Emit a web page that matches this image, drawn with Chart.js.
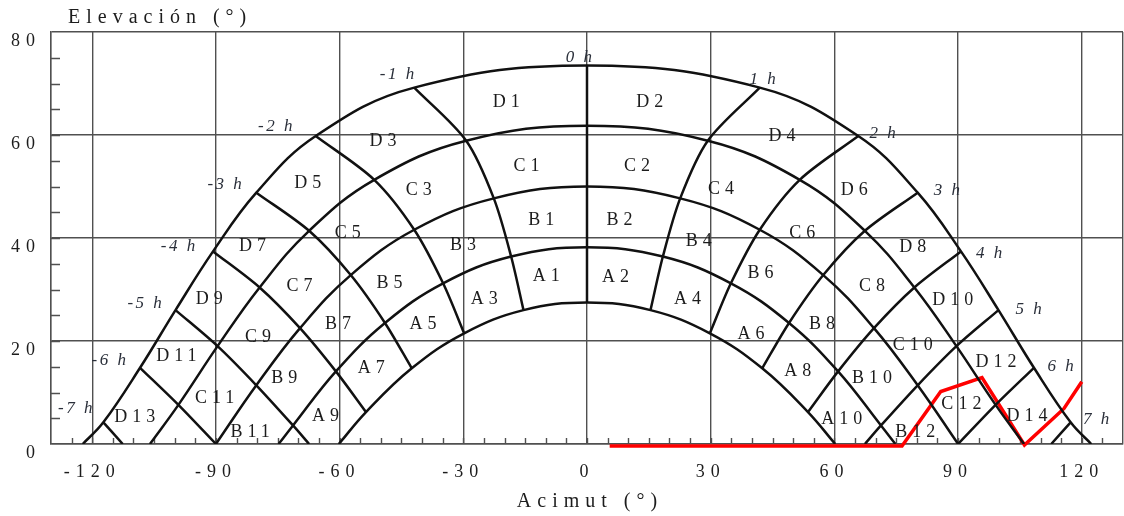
<!DOCTYPE html>
<html>
<head>
<meta charset="utf-8">
<script src="https://cdn.jsdelivr.net/npm/chart.js@4/dist/chart.umd.min.js"></script>
<style>
  html, body { margin: 0; padding: 0; background: #fff; }
</style>
</head>
<body>
<canvas id="sunpath" width="1124" height="516"></canvas>
<script>
// solar hours of the diagram
var hours = [-7, -6, -5, -4, -3, -2, -1, 0, 1, 2, 3, 4, 5, 6, 7];

// sun paths (azimuth / elevation at each solar hour, null = below horizon)
var azPath1 = [-117.3, -108.4, -99.8, -90.7, -80.2, -65.8, -41.9, 0, 41.9, 65.8, 80.2, 90.7, 99.8, 108.4, 117.3];
var elPath1 = [4.2, 14.8, 26.0, 37.4, 48.8, 59.8, 69.2, 73.5, 69.2, 59.8, 48.8, 37.4, 26.0, 14.8, 4.2];
var azPath2 = [null, -99.1, -89.6, -79.4, -67.4, -51.6, -29.3, 0, 29.3, 51.6, 67.4, 79.4, 89.6, 99.1, null];
var elPath2 = [null, 7.6, 19.0, 30.4, 41.4, 51.3, 58.9, 61.8, 58.9, 51.3, 41.4, 30.4, 19.0, 7.6, null];
var azPath3 = [null, -90, -80.2, -69.6, -57.3, -41.9, -22.6, 0, 22.6, 41.9, 57.3, 69.6, 80.2, 90, null];
var elPath3 = [null, 0, 11.4, 22.5, 32.8, 41.6, 47.7, 50.0, 47.7, 41.6, 32.8, 22.5, 11.4, 0, null];
var azPath4 = [null, null, -71.3, -60.9, -49.0, -34.9, -18.4, 0, 18.4, 34.9, 49.0, 60.9, 71.3, null, null];
var elPath4 = [null, null, 3.6, 14.1, 23.5, 31.2, 36.4, 38.2, 36.4, 31.2, 23.5, 14.1, 3.6, null, null];
var azPath5 = [null, null, null, -53.6, -42.5, -29.8, -15.4, 0, 15.4, 29.8, 42.5, 53.6, null, null, null];
var elPath5 = [null, null, null, 6.2, 14.7, 21.5, 26.0, 27.5, 26.0, 21.5, 14.7, 6.2, null, null, null];

// azimuth where each path meets the horizon
var horizonAz = [122.3, 106.0, 90.0, 74.8, 60.2];

// hour lines that run on down to the horizon
var footHours = [-7, -5, 5, 7];
var footAz = [-112.6, -67.4, 67.4, 112.6];

// obstacle profile (red)
var profileAz = [5.5, 76.4, 85.8, 95.8, 106.1, 115.7, 120.0];
var profileEl = [-0.4, -0.4, 10.2, 12.9, -0.2, 6.9, 12.1];

// axis ticks
var xTickValues = [-130, -120, -90, -60, -30, 0, 30, 60, 90, 120, 130];
var yTickValues = [0, 20, 40, 60, 80];

// label placements [text, azimuth, elevation]
var zoneLabels = [
  ["D1", -19.6, 66.3], ["D2", 15.2, 66.3], ["D3", -49.5, 58.7], ["D4", 47.3, 59.7],
  ["D5", -67.7, 50.7], ["D6", 64.8, 49.2], ["D7", -81.1, 38.3], ["D8", 79.0, 38.2],
  ["D9", -91.6, 28.1], ["D10", 88.7, 28.0], ["D11", -99.6, 17.0], ["D12", 99.2, 15.9],
  ["D13", -109.7, 5.1], ["D14", 106.7, 5.3],
  ["C1", -14.7, 54.0], ["C2", 12.1, 54.0], ["C3", -40.8, 49.2], ["C4", 32.5, 49.5],
  ["C5", -58.0, 40.9], ["C6", 52.2, 40.9], ["C7", -69.7, 30.7], ["C8", 69.1, 30.7],
  ["C9", -79.8, 20.8], ["C10", 79.0, 19.2], ["C11", -90.3, 8.9], ["C12", 90.8, 7.8],
  ["B1", -11.1, 43.5], ["B2", 7.9, 43.4], ["B3", -30.1, 38.6], ["B4", 27.1, 39.3],
  ["B5", -47.9, 31.2], ["B6", 42.1, 33.1], ["B7", -60.4, 23.3], ["B8", 57.0, 23.3],
  ["B9", -73.4, 12.8], ["B10", 69.1, 12.8], ["B11", -81.7, 2.2], ["B12", 79.6, 2.2],
  ["A1", -9.9, 32.5], ["A2", 6.9, 32.4], ["A3", -24.9, 28.1], ["A4", 24.4, 28.1],
  ["A5", -39.8, 23.3], ["A6", 39.8, 21.4], ["A7", -52.3, 14.7], ["A8", 51.1, 14.2],
  ["A9", -63.4, 5.3], ["A10", 61.8, 4.8]
];
var hourLabels = [
  ["-7 h", -124.1, 6.8], ["-6 h", -116.0, 16.3], ["-5 h", -107.3, 27.2], ["-4 h", -99.2, 38.4],
  ["-3 h", -87.9, 50.3], ["-2 h", -75.6, 61.7], ["-1 h", -46.1, 71.7], ["0 h", -2.0, 75.1],
  ["1 h", 42.6, 70.7], ["2 h", 71.7, 60.3], ["3 h", 87.3, 49.2], ["4 h", 97.5, 37.0],
  ["5 h", 107.1, 26.2], ["6 h", 114.9, 15.0], ["7 h", 123.5, 4.8]
];

var SERIF = "'Liberation Serif', 'Times New Roman', serif";
var GRID = "#505050";
var LS = 6;

var paths = [
  [azPath1, elPath1], [azPath2, elPath2], [azPath3, elPath3], [azPath4, elPath4], [azPath5, elPath5]
];

function pathPoints(az, el, rise) {
  var pts = [];
  for (var i = 0; i < az.length; i++) {
    if (az[i] !== null) pts.push({ x: az[i], y: el[i] });
  }
  if (pts[0].y > 0) {
    pts.unshift({ x: -rise, y: 0 });
    pts.push({ x: rise, y: 0 });
  }
  return pts;
}

function hourPoints(idx) {
  var pts = [];
  paths.forEach(function (p) {
    if (p[0][idx] !== null) pts.push({ x: p[0][idx], y: p[1][idx] });
  });
  var f = footHours.indexOf(hours[idx]);
  if (f >= 0) pts.push({ x: footAz[f], y: 0 });
  return pts;
}

var datasets = [];
paths.forEach(function (p, i) {
  datasets.push({
    data: pathPoints(p[0], p[1], horizonAz[i]),
    showLine: true,
    borderColor: "#111",
    borderWidth: 2.5,
    pointRadius: 0,
    tension: 0.4,
    fill: false,
  });
});
hours.forEach(function (h, i) {
  datasets.push({
    data: hourPoints(i),
    showLine: true,
    borderColor: "#111",
    borderWidth: 2.5,
    pointRadius: 0,
    tension: 0.3,
    fill: false,
  });
});
datasets.push({
  data: profileAz.map(function (a, i) { return { x: a, y: profileEl[i] }; }),
  showLine: true,
  borderColor: "#ff0000",
  borderWidth: 3.5,
  pointRadius: 0,
  tension: 0,
  clip: false,
  fill: false,
});

function drawText(ctx, text, x, y, font, color, ls, align) {
  ctx.save();
  ctx.font = font;
  ctx.fillStyle = color;
  ctx.letterSpacing = ls + "px";
  ctx.textAlign = align || "center";
  ctx.textBaseline = "middle";
  ctx.fillText(text, align === "left" ? x : x + ls / 2, y);
  ctx.restore();
}

var decor = {
  id: "decor",
  beforeDraw: function (chart) {
    chart.ctx.letterSpacing = LS + "px";
  },
  beforeDatasetsDraw: function (chart) {
    var ctx = chart.ctx, xs = chart.scales.x, ys = chart.scales.y;
    var area = chart.chartArea;
    ctx.save();
    ctx.strokeStyle = GRID;
    ctx.lineWidth = 1.4;
    ctx.beginPath();
    for (var v = -125; v <= 125; v += 5) {
      var px = Math.round(xs.getPixelForValue(v)) + 0.5;
      ctx.moveTo(px, area.bottom);
      ctx.lineTo(px, area.bottom - 6);
    }
    for (var w = 5; w < 80; w += 5) {
      var py = Math.round(ys.getPixelForValue(w)) + 0.5;
      ctx.moveTo(area.left, py);
      ctx.lineTo(area.left + 9, py);
    }
    ctx.stroke();
    ctx.restore();
  },
  afterDatasetsDraw: function (chart) {
    var ctx = chart.ctx, xs = chart.scales.x, ys = chart.scales.y;
    zoneLabels.forEach(function (l) {
      drawText(ctx, l[0], xs.getPixelForValue(l[1]), ys.getPixelForValue(l[2]),
        "18px " + SERIF, "#1c1c1c", 5);
    });
    hourLabels.forEach(function (l) {
      drawText(ctx, l[0], xs.getPixelForValue(l[1]), ys.getPixelForValue(l[2]),
        "italic 17px " + SERIF, "#2a2f3a", 2.5);
    });
    drawText(ctx, "Elevación (°)", 68, 18, "20px " + SERIF, "#1c1c1c", 6, "left");
    drawText(ctx, "Acimut (°)", 587, 502, "20px " + SERIF, "#1c1c1c", 6);
  },
};

var ctx = document.getElementById("sunpath").getContext("2d");
var chart = new Chart(ctx, {
  type: "scatter",
  data: { datasets: datasets },
  plugins: [decor],
  options: {
    responsive: false,
    animation: false,
    layout: { padding: { top: 32, right: 1, bottom: 0, left: 0 } },
    plugins: {
      legend: { display: false },
      tooltip: { enabled: false },
      title: { display: false },
    },
    scales: {
      x: {
        type: "linear",
        min: -130,
        max: 130,
        afterBuildTicks: function (scale) {
          scale.ticks = xTickValues.map(function (v) { return { value: v }; });
        },
        afterFit: function (scale) {
          scale.height = 72;
          scale.paddingLeft = 0;
          scale.paddingRight = 0;
        },
        ticks: {
          autoSkip: false,
          maxRotation: 0,
          padding: 17,
          color: "#1c1c1c",
          font: { family: SERIF, size: 18 },
          callback: function (v) { return Math.abs(v) === 130 ? "" : String(v); },
        },
        grid: { color: GRID, lineWidth: 1.4, drawTicks: false },
        border: { display: true, color: GRID, width: 1.4 },
      },
      y: {
        type: "linear",
        min: 0,
        max: 80,
        afterBuildTicks: function (scale) {
          scale.ticks = yTickValues.map(function (v) { return { value: v }; });
        },
        afterFit: function (scale) {
          scale.width = 51;
          scale.paddingTop = 0;
          scale.paddingBottom = 0;
        },
        ticks: {
          padding: 10,
          labelOffset: 9,
          color: "#1c1c1c",
          font: { family: SERIF, size: 18 },
        },
        grid: { color: GRID, lineWidth: 1.4, drawTicks: false },
        border: { display: true, color: GRID, width: 1.4 },
      },
    },
  },
});
</script>
</body>
</html>
